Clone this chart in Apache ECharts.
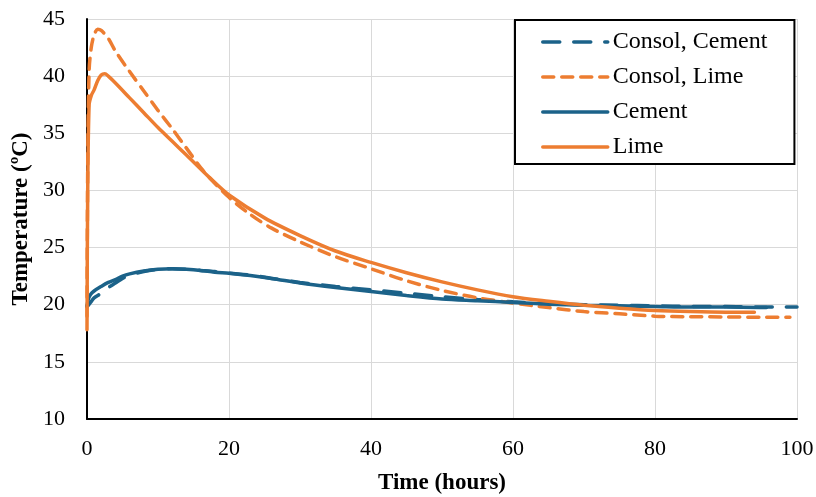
<!DOCTYPE html>
<html>
<head>
<meta charset="utf-8">
<script src="https://cdn.jsdelivr.net/npm/echarts@6/dist/echarts.min.js"></script>
<style>
  html, body { margin: 0; padding: 0; background: #fff; }
  #main { width: 816px; height: 497px; }
</style>
</head>
<body>
<div id="main"></div>
<script>
// hours / temperature
const consolCementX = [0, 0.5, 1, 2, 3, 4, 5, 6, 8, 10, 12, 14, 16, 18, 20, 23, 26, 30, 35, 40, 45, 50, 55, 60, 65, 70, 75, 80, 85, 90, 95, 100];
const consolCementY = [19.8, 20.2, 20.6, 21.0, 21.5, 21.9, 22.3, 22.6, 22.9, 23.1, 23.15, 23.1, 23.0, 22.9, 22.75, 22.6, 22.3, 21.95, 21.6, 21.3, 21.0, 20.7, 20.45, 20.25, 20.1, 20.0, 19.95, 19.9, 19.85, 19.85, 19.8, 19.8];

const consolLimeX = [0, 0.1, 0.3, 0.6, 1, 1.5, 2, 3, 4, 6, 8, 10, 12, 14, 16.4, 20, 23, 26, 30, 35, 40, 45, 50, 55, 60, 65, 70, 75, 80, 85, 90, 95, 99];
const consolLimeY = [19.0, 32.0, 40.5, 42.5, 43.6, 44.1, 44.0, 43.3, 42.2, 40.4, 38.7, 37.0, 35.4, 33.7, 31.7, 29.4, 27.9, 26.7, 25.5, 24.2, 23.15, 22.1, 21.25, 20.6, 20.15, 19.75, 19.4, 19.2, 19.0, 18.95, 18.93, 18.9, 18.9];

const cementX = [0, 0.2, 0.5, 1, 2, 3, 4, 5, 6, 8, 10, 12, 14, 16, 18, 20, 23, 26, 30, 35, 40, 45, 50, 55, 60, 65, 70, 75, 80, 85, 90, 95.7];
const cementY = [19.9, 20.5, 20.9, 21.2, 21.6, 21.95, 22.2, 22.5, 22.7, 22.95, 23.1, 23.15, 23.1, 23.0, 22.85, 22.75, 22.55, 22.3, 21.9, 21.5, 21.15, 20.8, 20.5, 20.35, 20.2, 20.05, 19.95, 19.9, 19.85, 19.8, 19.8, 19.75];

const limeX = [0, 0.1, 0.3, 0.6, 1, 1.5, 2, 2.5, 3, 4, 6, 8, 10, 12, 14, 17.3, 20, 25, 30, 35, 40, 45, 50, 55, 60, 65, 70, 75, 80, 85, 90, 94];
const limeY = [17.8, 30.0, 37.5, 38.3, 38.8, 39.6, 40.1, 40.2, 40.0, 39.4, 38.1, 36.8, 35.5, 34.3, 33.1, 31.1, 29.6, 27.6, 26.05, 24.7, 23.7, 22.8, 22.0, 21.3, 20.7, 20.3, 19.95, 19.7, 19.5, 19.4, 19.35, 19.35];

const xTicks = { min: 0, max: 100, step: 20 };
const yTicks = { min: 10, max: 45, step: 5 };

const blue = '#1b6289';
const orange = '#ed7d31';
const serif = 'Liberation Serif';

function pairs(xs, ys) {
  return xs.map((x, i) => [x, ys[i]]);
}

function lineSeries(name, xs, ys, color, dash) {
  return {
    name: name,
    type: 'line',
    data: pairs(xs, ys),
    showSymbol: false,
    symbol: 'none',
    smooth: 0.3,
    lineStyle: { color: color, width: 3.5, type: dash || 'solid', cap: 'round' },
    itemStyle: { color: color }
  };
}

let myChart = echarts.init(document.getElementById('main'));

let option = {
  animation: false,
  backgroundColor: '#fff',
  grid: { left: 87, right: 19, top: 19, bottom: 78, containLabel: false, outerBoundsMode: 'none' },
  legend: {
    orient: 'vertical',
    left: 515,
    top: 20,
    padding: [10, 27, 5, 26],
    itemWidth: 65,
    itemHeight: 14,
    itemGap: 11,
    borderColor: '#000',
    borderWidth: 2,
    backgroundColor: '#fff',
    itemStyle: { opacity: 0 },
    lineStyle: { width: 3.5 },
    textStyle: { fontFamily: serif, fontSize: 24, color: '#000' },
    data: ['Consol, Cement', 'Consol, Lime', 'Cement', 'Lime']
  },
  xAxis: {
    type: 'value',
    min: xTicks.min,
    max: xTicks.max,
    interval: xTicks.step,
    name: 'Time (hours)',
    nameLocation: 'middle',
    nameGap: 53,
    nameTextStyle: { fontFamily: serif, fontSize: 23, fontWeight: 'bold', color: '#000' },
    axisLine: { show: true, lineStyle: { color: '#000', width: 2 } },
    axisTick: { show: false },
    axisLabel: { fontFamily: serif, fontSize: 22, color: '#000', margin: 19 },
    splitLine: { show: true, lineStyle: { color: '#d9d9d9', width: 1 } }
  },
  yAxis: {
    type: 'value',
    min: yTicks.min,
    max: yTicks.max,
    interval: yTicks.step,
    name: 'Temperature (ºC)',
    nameLocation: 'middle',
    nameGap: 46,
    nameTextStyle: { fontFamily: serif, fontSize: 23, fontWeight: 'bold', color: '#000' },
    axisLine: { show: true, lineStyle: { color: '#000', width: 2 } },
    axisTick: { show: false },
    axisLabel: { fontFamily: serif, fontSize: 22, color: '#000', margin: 22 },
    splitLine: { show: true, lineStyle: { color: '#d9d9d9', width: 1 } }
  },
  series: [
    lineSeries('Consol, Cement', consolCementX, consolCementY, blue, [17, 14]),
    lineSeries('Consol, Lime', consolLimeX, consolLimeY, orange, [11, 8]),
    lineSeries('Cement', cementX, cementY, blue),
    lineSeries('Lime', limeX, limeY, orange)
  ]
};

myChart.setOption(option);
</script>
</body>
</html>
